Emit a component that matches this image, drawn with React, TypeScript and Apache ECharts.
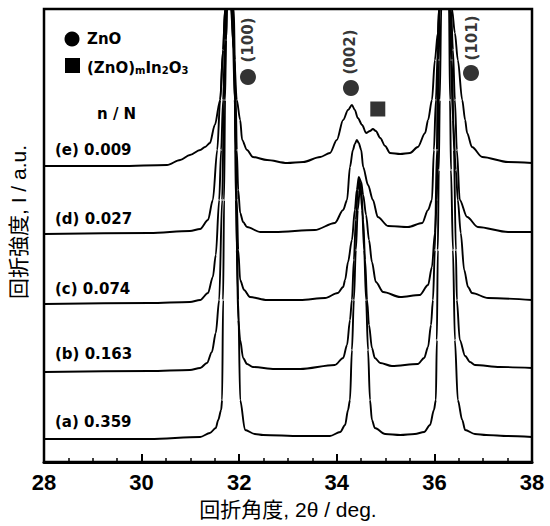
import React, { useEffect, useRef } from "react";
import * as echarts from "echarts";

// XRD patterns: [2θ (deg), intensity (a.u., offset)]
const traceA: [number, number][] = [
  [28.0, 23], [30.17, 23], [31.2, 25], [31.4, 29], [31.52, 34], [31.57, 42], [31.63, 52], [31.65, 62],
  [31.67, 162], [31.69, 262], [31.71, 362], [31.73, 422], [31.75, 453], [31.81, 1100], [31.87, 453],
  [31.89, 422], [31.91, 362], [31.93, 262], [31.98, 162], [32.02, 62], [32.12, 32], [32.32, 28],
  [32.49, 27], [33.25, 26], [33.86, 26], [34.07, 30], [34.17, 37], [34.23, 52], [34.27, 62], [34.31, 112],
  [34.35, 162], [34.39, 212], [34.43, 252], [34.48, 278], [34.52, 252], [34.56, 212], [34.6, 162],
  [34.64, 112], [34.68, 62], [34.72, 42], [34.78, 34], [34.99, 28], [35.3, 27], [35.6, 28], [35.79, 30],
  [35.91, 37], [35.99, 52], [36.03, 62], [36.05, 122], [36.07, 212], [36.09, 292], [36.11, 362],
  [36.14, 453], [36.22, 1100], [36.3, 453], [36.32, 362], [36.34, 292], [36.38, 212], [36.42, 122],
  [36.48, 62], [36.57, 42], [36.63, 32], [36.83, 28], [37.06, 27], [37.51, 26], [38.0, 25],
];
const traceB: [number, number][] = [
  [28.0, 90], [30.17, 91], [30.99, 92], [31.2, 94], [31.34, 99], [31.44, 110], [31.52, 129], [31.59, 162],
  [31.65, 262], [31.69, 362], [31.73, 422], [31.75, 453], [31.82, 1100], [31.89, 453], [31.91, 402],
  [31.93, 312], [31.95, 212], [31.98, 142], [32.02, 122], [32.08, 104], [32.16, 98], [32.28, 95],
  [32.73, 93], [33.25, 93], [33.96, 97], [34.13, 104], [34.21, 117], [34.27, 142], [34.31, 162],
  [34.35, 202], [34.39, 242], [34.43, 272], [34.46, 282], [34.5, 272], [34.54, 242], [34.58, 202],
  [34.62, 162], [34.66, 137], [34.72, 114], [34.78, 104], [34.89, 99], [35.13, 96], [35.66, 98],
  [35.79, 104], [35.87, 115], [35.93, 137], [35.97, 162], [36.01, 212], [36.05, 312], [36.07, 402],
  [36.09, 453], [36.21, 1100], [36.32, 453], [36.36, 402], [36.4, 312], [36.44, 212], [36.46, 162],
  [36.52, 122], [36.63, 106], [36.73, 100], [36.83, 97], [37.34, 95], [38.0, 94],
];
const traceC: [number, number][] = [
  [28.0, 158], [30.17, 159], [30.99, 160], [31.2, 162], [31.36, 169], [31.46, 185], [31.52, 207],
  [31.59, 262], [31.63, 312], [31.67, 362], [31.71, 422], [31.73, 453], [31.79, 1100], [31.85, 453],
  [31.87, 422], [31.91, 362], [31.93, 312], [31.95, 262], [31.98, 212], [32.02, 182], [32.1, 172],
  [32.22, 165], [32.57, 162], [33.25, 162], [33.76, 164], [34.02, 169], [34.13, 175], [34.17, 182],
  [34.23, 200], [34.31, 222], [34.37, 252], [34.41, 272], [34.45, 285], [34.5, 280], [34.54, 267],
  [34.6, 247], [34.66, 222], [34.72, 200], [34.8, 180], [34.95, 170], [35.3, 165], [35.7, 167],
  [35.87, 177], [35.95, 195], [36.01, 229], [36.05, 262], [36.07, 312], [36.09, 402], [36.11, 453],
  [36.22, 1100], [36.32, 453], [36.34, 402], [36.38, 342], [36.44, 292], [36.48, 262], [36.54, 229],
  [36.61, 192], [36.69, 175], [36.77, 169], [37.1, 164], [38.0, 162],
];
const traceD: [number, number][] = [
  [28.0, 228], [30.17, 229], [30.99, 231], [31.2, 233], [31.36, 242], [31.46, 262], [31.55, 312],
  [31.61, 362], [31.67, 412], [31.71, 453], [31.78, 1100], [31.85, 453], [31.89, 412], [31.93, 362],
  [31.95, 312], [31.98, 272], [32.02, 249], [32.08, 240], [32.16, 235], [32.43, 230], [32.73, 230],
  [33.55, 232], [33.96, 239], [34.13, 252], [34.21, 262], [34.27, 295], [34.33, 312], [34.37, 318],
  [34.41, 322], [34.45, 319], [34.5, 312], [34.54, 295], [34.64, 277], [34.74, 262], [34.84, 245],
  [35.05, 236], [35.46, 235], [35.75, 239], [35.87, 252], [35.95, 262], [35.99, 312], [36.03, 362],
  [36.07, 412], [36.09, 453], [36.22, 1100], [36.34, 453], [36.38, 412], [36.42, 362], [36.46, 312],
  [36.52, 262], [36.67, 245], [36.89, 235], [37.51, 230], [38.0, 230],
];
const traceE: [number, number][] = [
  [28.0, 296], [29.56, 296], [30.52, 297], [30.79, 302], [30.99, 307], [31.2, 312], [31.3, 315],
  [31.4, 319], [31.5, 337], [31.61, 362], [31.67, 412], [31.71, 453], [31.77, 1100], [31.83, 453],
  [31.89, 412], [31.95, 362], [32.02, 342], [32.06, 322], [32.16, 312], [32.28, 305], [32.57, 302],
  [32.98, 299], [33.31, 300], [33.66, 305], [33.86, 309], [34.0, 322], [34.13, 342], [34.23, 352],
  [34.31, 357], [34.37, 352], [34.43, 344], [34.52, 337], [34.6, 329], [34.68, 331], [34.74, 333],
  [34.8, 331], [34.89, 324], [34.99, 316], [35.09, 309], [35.3, 308], [35.5, 309], [35.66, 315],
  [35.81, 329], [35.87, 342], [35.95, 362], [36.01, 402], [36.07, 429], [36.11, 453], [36.24, 1100],
  [36.36, 453], [36.42, 429], [36.48, 402], [36.57, 362], [36.63, 342], [36.67, 329], [36.77, 315],
  [36.98, 305], [37.51, 300], [38.0, 299],
];

const traceNames = ["(a) 0.359", "(b) 0.163", "(c) 0.074", "(d) 0.027", "(e) 0.009"];
const xTickLabels = ["28", "30", "32", "34", "36", "38"];
const peakLabels = ["(100)", "(002)", "(101)"];
const peakLabelX = [32.18, 34.27, 36.77];
const peakLabelY = [422, 410, 424];
const znoMarkerX = [32.18, 34.29, 36.75];
const znoMarkerY = [385, 374, 389];
const phaseMarkerX = [34.84];
const phaseMarkerY = [353];

const LATIN = "'DejaVu Sans', sans-serif";
const CJK = "'Liberation Sans', 'Noto Sans CJK JP', sans-serif";

export default function App() {
  const ref = useRef<HTMLDivElement>(null);
  useEffect(() => {
    if (!ref.current) return;
    const chart = echarts.init(ref.current, undefined, { renderer: "svg" });
    const traces = [traceA, traceB, traceC, traceD, traceE];
    const labelPy = [422, 354, 289, 219, 150];
    const lineSeries = traces.map((d, i) => ({
      type: "line",
      name: traceNames[i],
      data: d,
      showSymbol: false,
      symbol: "none",
      smooth: 0.3,
      smoothMonotone: "x",
      clip: true,
      silent: true,
      lineStyle: { color: "#000", width: 1.9 },
      z: 2,
    }));
    const option: any = {
      animation: false,
      backgroundColor: "#fff",
      grid: {
        left: 44, right: 18, top: 9, bottom: 64,
        show: true, borderColor: "#000", borderWidth: 2.5, backgroundColor: "transparent",
      },
      xAxis: {
        type: "value", min: 28, max: 38, interval: 2,
        axisLine: { lineStyle: { color: "#000", width: 3 } },
        axisTick: { inside: true, length: 8, lineStyle: { color: "#000", width: 2 } },
        minorTick: { show: true, splitNumber: 4, length: 4, lineStyle: { color: "#000", width: 1.5 } },
        splitLine: { show: false },
        axisLabel: {
          color: "#000", fontWeight: "bold", fontSize: 22, fontFamily: "'Liberation Sans', Arial, sans-serif",
          margin: 9,
          formatter: (v: number) => xTickLabels[Math.round((v - 28) / 2)] ?? "",
        },
        name: "回折角度, 2θ / deg.",
        nameLocation: "middle",
        nameGap: 37,
        nameTextStyle: { color: "#000", fontSize: 21, fontFamily: CJK },
      },
      yAxis: { type: "value", min: 0, max: 453, show: false },
      series: [
        ...lineSeries,
        {
          type: "scatter", symbol: "circle", symbolSize: 16, silent: true, z: 3,
          itemStyle: { color: "#000" },
          data: znoMarkerX.map((x, i) => [x, znoMarkerY[i]]),
        },
        {
          type: "scatter", symbol: "rect", symbolSize: 15, silent: true, z: 3,
          itemStyle: { color: "#000" },
          data: phaseMarkerX.map((x, i) => [x, phaseMarkerY[i]]),
        },
        {
          type: "scatter", symbolSize: 1, silent: true, z: 3,
          itemStyle: { color: "rgba(0,0,0,0)" },
          label: {
            show: true, position: "inside", rotate: 90, formatter: "{b}",
            color: "#000", fontWeight: "bold", fontSize: 15, fontFamily: LATIN,
          },
          data: peakLabels.map((n, i) => ({ name: n, value: [peakLabelX[i], peakLabelY[i]] })),
        },
      ],
      graphic: [
        { type: "circle", shape: { cx: 72, cy: 39, r: 7.5 }, style: { fill: "#000" } },
        { type: "rect", shape: { x: 65, y: 58, width: 15, height: 15 }, style: { fill: "#000" } },
        {
          type: "text", x: 87, y: 39,
          style: { text: "ZnO", fill: "#000", font: `bold 15px ${LATIN}`, verticalAlign: "middle", align: "left" },
        },
        {
          type: "text", x: 87, y: 66,
          style: {
            text: "{a|(ZnO)}{s|m}{a|In}{s|2}{a|O}{s|3}",
            verticalAlign: "middle", align: "left",
            rich: {
              a: { fontSize: 15, fontWeight: "bold", fontFamily: LATIN, fill: "#000", color: "#000", lineHeight: 18, verticalAlign: "bottom" },
              s: { fontSize: 10, fontWeight: "bold", fontFamily: LATIN, fill: "#000", color: "#000", lineHeight: 12, verticalAlign: "bottom" },
            },
          },
        },
        {
          type: "text", x: 97, y: 114,
          style: { text: "n / N", fill: "#000", font: `bold 15px ${LATIN}`, verticalAlign: "middle", align: "left" },
        },
        ...traceNames.map((t, i) => ({
          type: "text", x: 55, y: labelPy[i],
          style: { text: t, fill: "#000", font: `bold 15px ${LATIN}`, verticalAlign: "middle", align: "left" },
        })),
        {
          type: "text", x: 18, y: 222, rotation: Math.PI / 2,
          style: {
            text: "回折強度, I / a.u.", fill: "#000", font: `21px ${CJK}`,
            align: "center", verticalAlign: "middle",
          },
        },
      ],
    };
    chart.setOption(option);
    return () => chart.dispose();
  }, []);
  return (
    <div
      ref={ref}
      style={{ position: "fixed", left: 0, top: 0, width: 550, height: 526, background: "#fff" }}
    />
  );
}
